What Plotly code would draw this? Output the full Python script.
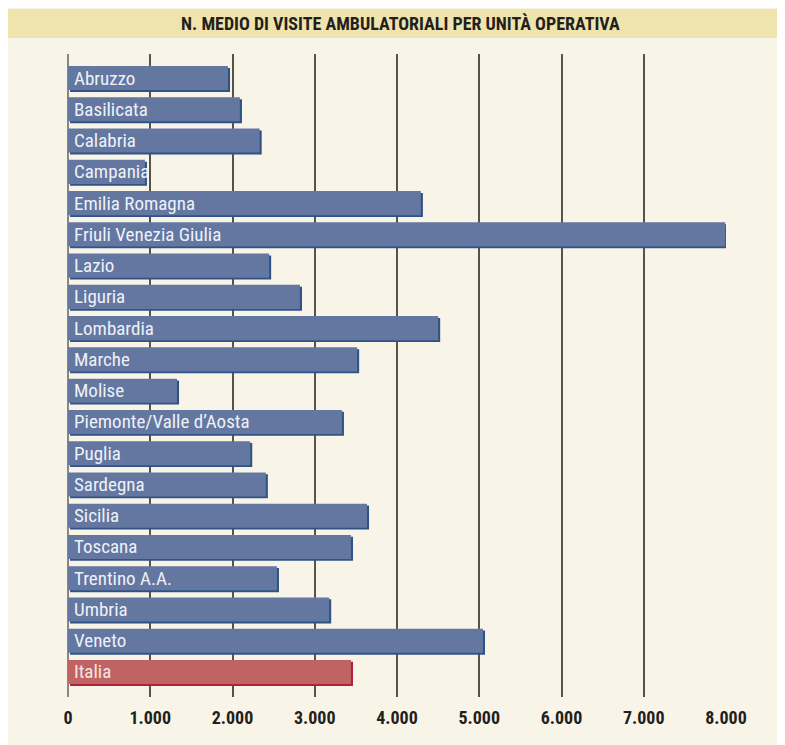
import plotly.graph_objects as go

regions = ["Abruzzo", "Basilicata", "Calabria", "Campania", "Emilia Romagna",
           "Friuli Venezia Giulia", "Lazio", "Liguria", "Lombardia", "Marche",
           "Molise", "Piemonte/Valle d’Aosta", "Puglia", "Sardegna", "Sicilia",
           "Toscana", "Trentino A.A.", "Umbria", "Veneto", "Italia"]
visits = [1945, 2090, 2330, 935, 4290, 7990, 2445, 2820, 4500, 3515,
          1325, 3330, 2215, 2405, 3635, 3440, 2540, 3175, 5045, 3440]
tick_vals = [0, 1000, 2000, 3000, 4000, 5000, 6000, 7000, 8000]
tick_text = ["0", "1.000", "2.000", "3.000", "4.000", "5.000", "6.000", "7.000", "8.000"]
title_text = "N. MEDIO DI VISITE AMBULATORIALI PER UNITÀ OPERATIVA"

fill = ["#c06363" if r == "Italia" else "#6477a1" for r in regions]
shade = ["#b0223c" if r == "Italia" else "#2f5387" for r in regions]
label_col = ["#f7e3e3" if r == "Italia" else "#eef1f8" for r in regions]

W = 0.77
NARROW = "Liberation Sans Narrow, Arial Narrow, Roboto Condensed, sans-serif"

# plot area in figure pixels: x 60..718, y 46..689
PW, PH = 658.0, 643.0

fig = go.Figure()
# shadow bars
fig.add_trace(go.Bar(
    y=regions, x=visits, base=25, orientation="h",
    width=W, offset=-W / 2 + 0.06,
    marker=dict(color=shade, line=dict(width=0)),
    hoverinfo="skip", showlegend=False))
# main bars
fig.add_trace(go.Bar(
    y=regions, x=visits, orientation="h",
    width=W, offset=-W / 2,
    marker=dict(color=fill, line=dict(width=0)),
    showlegend=False))

annotations = [dict(text=r, x=0, y=r, xref="x", yref="y", showarrow=False,
                    xanchor="left", yanchor="middle", xshift=4, yshift=0,
                    font=dict(family=NARROW, size=19, color=c))
               for r, c in zip(regions, label_col)]
annotations.append(dict(text="<b>" + title_text + "</b>", xref="paper", yref="paper",
                        x=(392 - 60) / PW, y=(689 - 15.5) / PH, showarrow=False,
                        xanchor="center", yanchor="middle",
                        font=dict(family=NARROW, size=18, color="#231f1c")))

fig.update_layout(
    width=785, height=745,
    margin=dict(l=60, r=67, t=46, b=56),
    paper_bgcolor="#f8f4e7",
    plot_bgcolor="rgba(0,0,0,0)",
    barmode="overlay",
    xaxis=dict(range=[0, 8000], tickvals=tick_vals, ticktext=tick_text,
               showgrid=True, gridcolor="#57524c", gridwidth=1.6,
               zeroline=True, zerolinecolor="#8c877e", zerolinewidth=2,
               showline=False, ticks="", ticklabelstandoff=8,
               tickfont=dict(family=NARROW, size=18, color="#231f1c", weight="bold"),
               fixedrange=True),
    yaxis=dict(categoryorder="array", categoryarray=regions,
               range=[19.8, -0.77], showticklabels=False, showgrid=False,
               zeroline=False, showline=False, ticks=""),
    shapes=[
        dict(type="rect", xref="paper", yref="paper", layer="below",
             x0=-60 / PW, x1=725 / PW, y0=(689 - 30) / PH, y1=(689 - 1) / PH,
             fillcolor="#efe4ae", line=dict(width=0)),
    ],
    annotations=annotations,
)

fig.write_html("out.html")
